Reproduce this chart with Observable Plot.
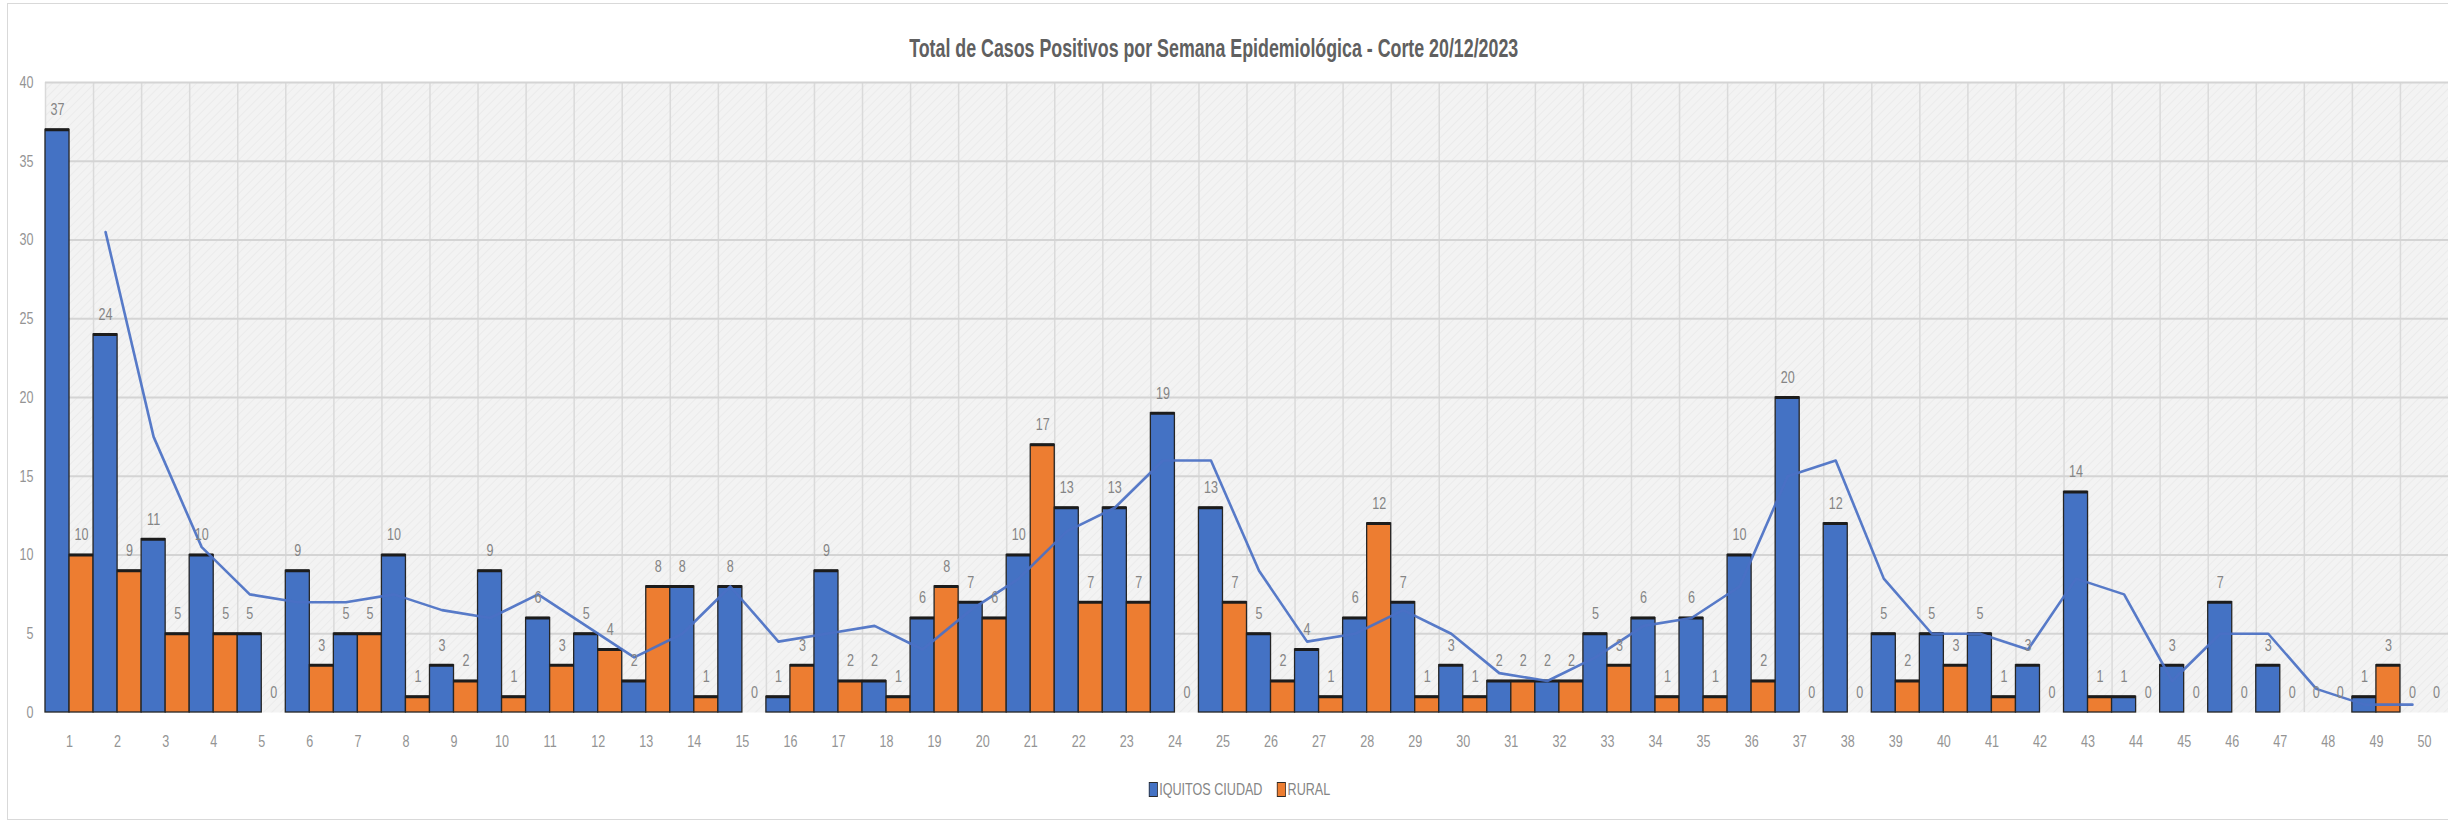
<!DOCTYPE html>
<html>
<head>
<meta charset="utf-8">
<script src="https://cdn.jsdelivr.net/npm/d3@7"></script>
<script src="https://cdn.jsdelivr.net/npm/@observablehq/plot@0.6"></script>
<style>
  body { margin: 0; background: #fff; font-family: "Liberation Sans Narrow", "Liberation Sans", sans-serif; }
  #frame { position: relative; width: 2448px; height: 822px; overflow: hidden; }
  #border { position: absolute; left: 7px; top: 3px; width: 2460px; height: 817px; border: 1px solid #d9d9d9; box-sizing: border-box; pointer-events: none; }
  #title { height: 66px; box-sizing: border-box; padding-top: 36px; padding-right: 20px; text-align: center; line-height: 24px; }
  #title span { display: inline-block; font-size: 25px; font-weight: bold; color: #606060; white-space: nowrap; }
  #chart svg { display: block; }
  #legend { height: 66px; box-sizing: border-box; padding-top: 25px; padding-left: 32px; text-align: center; line-height: 18px; }
  #legend .inner { display: inline-block; font-size: 17px; color: #858585; white-space: nowrap; }
  .key { display: inline-block; width: 10px; height: 13px; border: 1.5px solid #2b2b2b; vertical-align: -2px; margin-right: 2px; }
  .item { display: inline-block; margin: 0 10px; }
</style>
</head>
<body>
<div id="frame">
  <div id="border"></div>
  <div id="title"><span>Total de Casos Positivos por Semana Epidemiológica - Corte 20/12/2023</span></div>
  <div id="chart"></div>
  <div id="legend"><div class="inner"></div></div>
</div>
<script>
const weeks = [1,2,3,4,5,6,7,8,9,10,11,12,13,14,15,16,17,18,19,20,21,22,23,24,25,26,27,28,29,30,31,32,33,34,35,36,37,38,39,40,41,42,43,44,45,46,47,48,49,50];
const iquitosCiudad = [37,24,11,10,5,9,5,10,3,9,6,5,2,8,8,1,9,2,6,7,10,13,13,19,13,5,4,6,7,3,2,2,5,6,6,10,20,12,5,5,5,3,14,1,3,7,3,0,1,0];
const rural = [10,9,5,5,0,3,5,1,2,1,3,4,8,1,0,3,2,1,8,6,17,7,7,0,7,2,1,12,1,1,2,2,3,1,1,2,0,0,2,3,1,0,1,0,0,0,0,0,3,0];
const seriesNames = ["IQUITOS CIUDAD", "RURAL"];
const seriesColors = ["#4472C4", "#ED7D31"];
const yTicks = [0,5,10,15,20,25,30,35,40];

const rows = weeks.flatMap((w, i) => [
  {week: w, series: seriesNames[0], value: iquitosCiudad[i]},
  {week: w, series: seriesNames[1], value: rural[i]}
]);
const cityRows = rows.filter(d => d.series === seriesNames[0]);
const isCity = d => d.series === seriesNames[0];
const left = d => isCity(d) ? d.week - 0.5 : d.week;
const right = d => isCity(d) ? d.week : d.week + 0.5;
const mid = d => isCity(d) ? d.week - 0.25 : d.week + 0.25;

const chart = Plot.plot({
  width: 2448,
  height: 690,
  marginLeft: 45,
  marginRight: 0,
  marginTop: 16,
  marginBottom: 44,
  style: {fontFamily: "'Liberation Sans Narrow', 'Liberation Sans', sans-serif", fontSize: "17px", color: "#8c8c8c", background: "transparent"},
  x: {type: "linear", domain: [0.5, 50.5], axis: null},
  y: {domain: [0, 40], axis: null},
  color: {domain: seriesNames, range: seriesColors},
  marks: [
    Plot.frame({fill: "url(#hatch)", stroke: null}),
    Plot.ruleX(weeks, {x: d => d - 0.5, stroke: "#dadada", strokeWidth: 1.5}),
    Plot.ruleY(yTicks.filter(t => t > 0), {y: d => d, stroke: "#d4d4d4", strokeWidth: 2}),
    Plot.axisX(weeks, {x: d => d, tickSize: 0, tickPadding: 22, fontSize: 17, fill: "#949494", tickFormat: d => String(d), label: null}),
    Plot.axisY(yTicks, {y: d => d, tickSize: 0, tickPadding: 12, fontSize: 17, fill: "#949494", tickFormat: d => String(d), label: null}),
    Plot.rectY(rows.filter(d => d.value > 0), {x1: left, x2: right, y1: 0, y2: "value", fill: "series", stroke: "#262626", strokeWidth: 1.3}),
    Plot.ruleY(rows.filter(d => d.value > 0), {y: "value", x1: left, x2: right, stroke: "#1c1c1c", strokeWidth: 3}),
    Plot.lineY(cityRows, Plot.windowY({k: 2, anchor: "end", reduce: "mean", strict: true}, {x: d => d.week - 0.25, y: "value", stroke: "#4a70c4", strokeWidth: 2.6, strokeOpacity: 0.92})),
    Plot.text(rows, {x: mid, y: "value", text: d => String(d.value), dy: -20, fill: "#858585", fontSize: 17})
  ]
});

// hatch pattern for the plot background
const svgNS = "http://www.w3.org/2000/svg";
const defs = document.createElementNS(svgNS, "defs");
defs.innerHTML = '<pattern id="hatch" width="6" height="6" patternUnits="userSpaceOnUse" patternTransform="rotate(45)">' +
  '<rect width="6" height="6" fill="#f3f3f3"></rect>' +
  '<line x1="0" y1="0" x2="0" y2="6" stroke="#e9e9e9" stroke-width="1.5"></line></pattern>';
chart.insertBefore(defs, chart.firstChild);
document.getElementById("chart").appendChild(chart);

// condensed look of the reference's text: squeeze glyphs horizontally around their anchor
const squeeze = 0.74;
chart.querySelectorAll("text").forEach(t => {
  const x = parseFloat(t.getAttribute("x") || "0");
  const tr = t.getAttribute("transform") || "";
  t.setAttribute("transform", `${tr} translate(${x},0) scale(${squeeze},1) translate(${-x},0)`);
});

const legendInner = document.querySelector("#legend .inner");
seriesNames.forEach((name, i) => {
  const item = document.createElement("span");
  item.className = "item";
  const key = document.createElement("span");
  key.className = "key";
  key.style.background = seriesColors[i];
  item.appendChild(key);
  item.appendChild(document.createTextNode(name));
  legendInner.appendChild(item);
});
legendInner.style.transform = `scaleX(${squeeze})`;

// title squeezed to the reference's width
const titleSpan = document.querySelector("#title span");
const tw = titleSpan.getBoundingClientRect().width;
titleSpan.style.transform = `scaleX(${609 / tw})`;
</script>
</body>
</html>
